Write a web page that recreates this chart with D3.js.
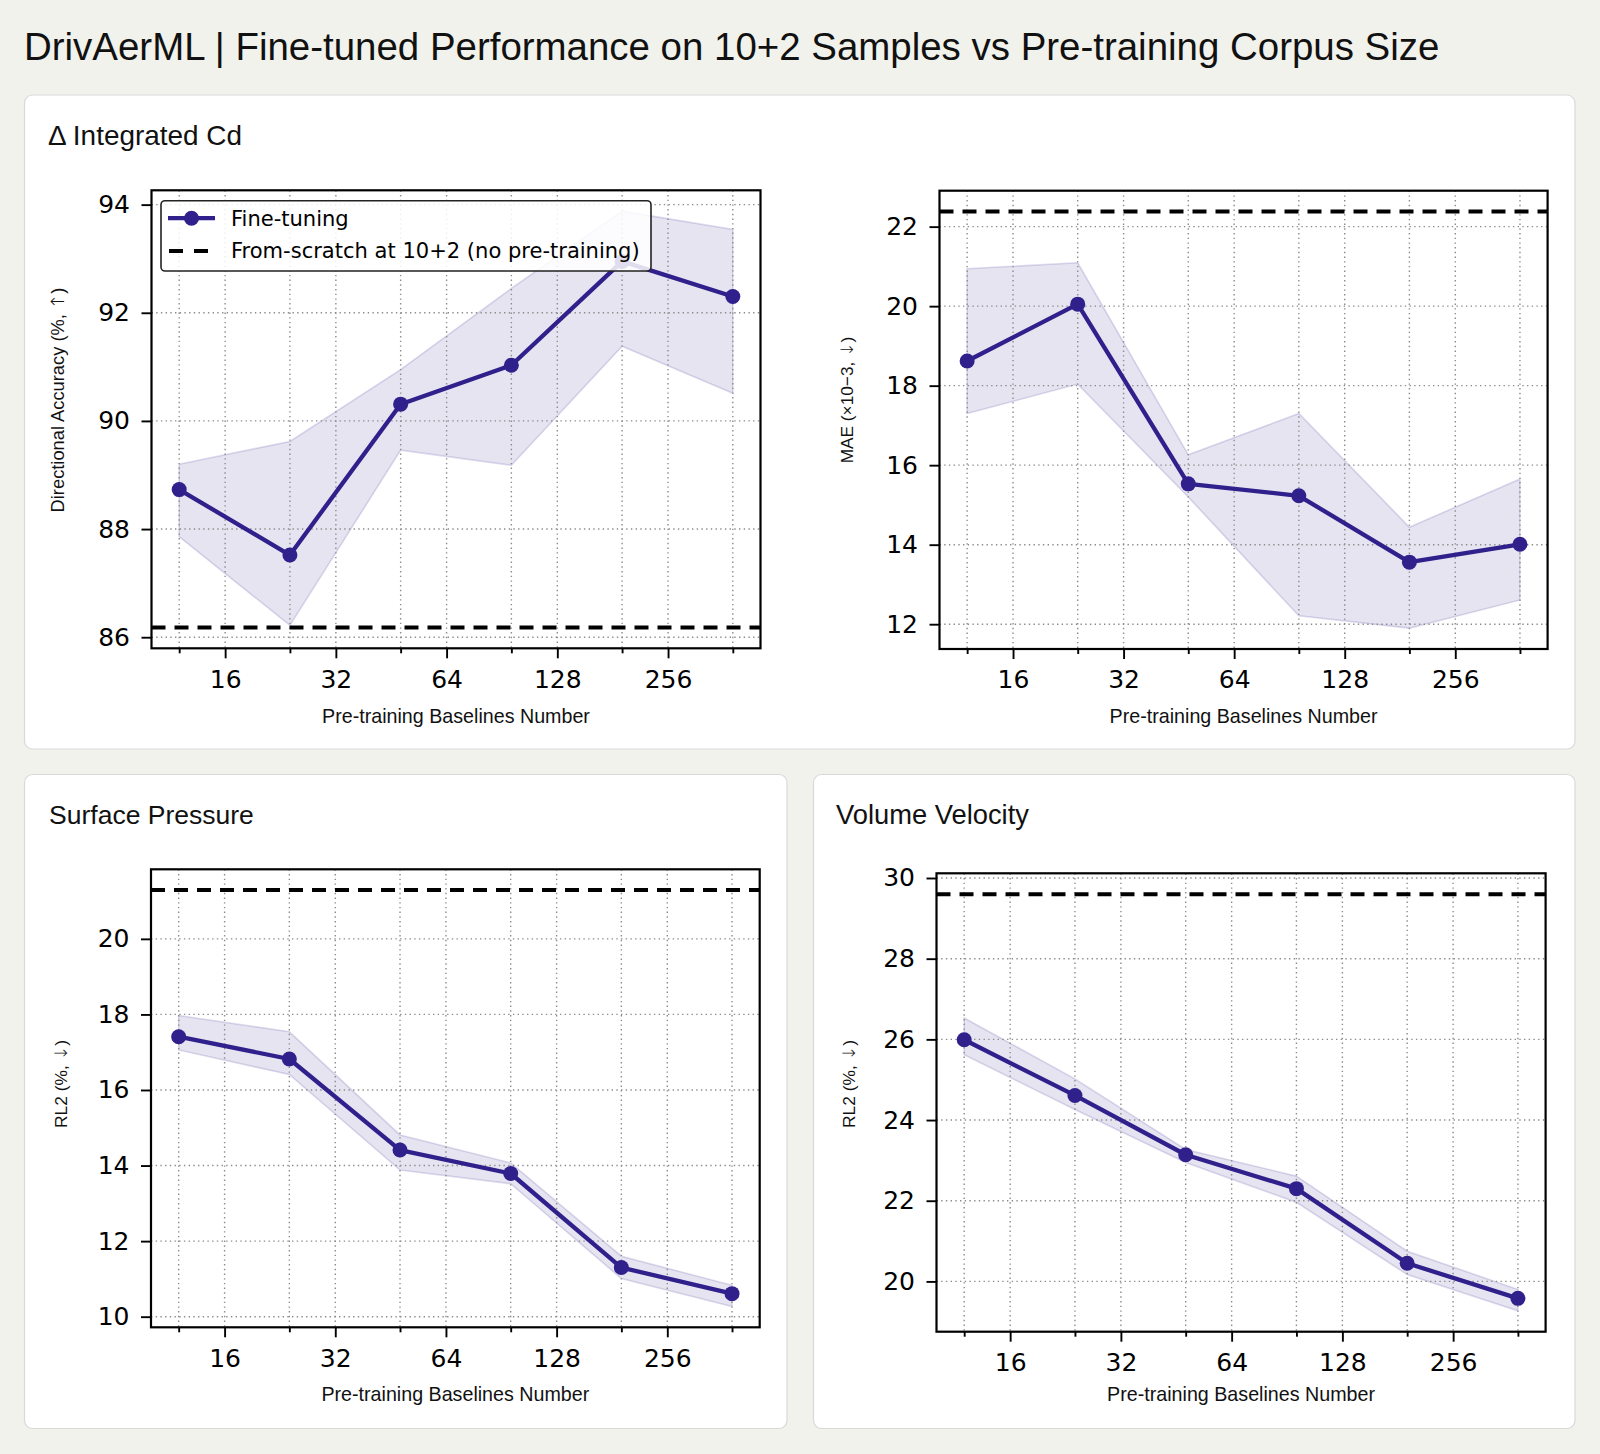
<!DOCTYPE html>
<html>
<head>
<meta charset="utf-8">
<script src="https://cdn.jsdelivr.net/npm/d3@7"></script>
<style>
  html, body { margin: 0; padding: 0; background: #f2f2ec; }
  svg { display: block; }
</style>
</head>
<body>
<svg id="chart"></svg>
<script>
// pre-training corpus sizes (x) and axis ticks
let sizes = [12, 24, 48, 96, 192, 384];
let xTicks = [16, 32, 64, 128, 256];
let xMinorTicks = [12, 24, 48, 96, 192, 384];

// Delta Integrated Cd - directional accuracy
let accMean = [88.73, 87.52, 90.31, 91.03, 92.95, 92.30];
let accUpper = [89.20, 89.62, 90.95, 92.45, 93.88, 93.54];
let accLower = [87.86, 86.22, 89.46, 89.18, 91.38, 90.51];
let accScratch = 86.18;
let accTicks = [86, 88, 90, 92, 94];

// Delta Integrated Cd - MAE
let maeMean = [18.62, 20.05, 15.53, 15.23, 13.56, 14.01];
let maeUpper = [20.94, 21.09, 16.26, 17.30, 14.44, 15.65];
let maeLower = [17.30, 18.04, 15.20, 12.21, 11.90, 12.61];
let maeScratch = 22.38;
let maeTicks = [12, 14, 16, 18, 20, 22];

// Surface pressure RL2
let spMean = [17.41, 16.82, 14.41, 13.79, 11.30, 10.61];
let spUpper = [17.97, 17.54, 14.81, 14.07, 11.60, 10.83];
let spLower = [17.06, 16.41, 13.88, 13.52, 11.01, 10.27];
let spScratch = 21.29;
let spTicks = [10, 12, 14, 16, 18, 20];

// Volume velocity RL2
let vvMean = [25.99, 24.61, 23.14, 22.30, 20.45, 19.58];
let vvUpper = [26.53, 25.02, 23.27, 22.61, 20.75, 19.80];
let vvLower = [25.62, 24.26, 22.95, 21.96, 20.17, 19.27];
let vvScratch = 29.60;
let vvTicks = [20, 22, 24, 26, 28, 30];

let lineColor = "#30208c";
let sans = "'Liberation Sans', Arial, sans-serif";
let mono = "'DejaVu Sans', sans-serif";

let W = 1600, H = 1454;

let svg = d3.select("#chart")
    .attr("width", W)
    .attr("height", H);

svg.append("rect")
    .attr("width", W)
    .attr("height", H)
    .attr("fill", "#f2f2ec");

// scale font so text hits a target width
function fit(sel, target) {
    let len = sel.node().getComputedTextLength();
    let fs = parseFloat(sel.attr("font-size"));
    sel.attr("font-size", fs * target / len);
    return fs * target / len;
}

let title = svg.append("text")
    .attr("x", 24)
    .attr("y", 59.5)
    .attr("font-family", sans)
    .attr("font-size", 36)
    .attr("fill", "#111")
    .text("DrivAerML | Fine-tuned Performance on 10+2 Samples vs Pre-training Corpus Size");
fit(title, 1416);

// cards
let cards = [
    {x: 24.5, y: 95, w: 1550.5, h: 654, title: "\u0394 Integrated Cd", tx: 48, ty: 145, tw: 194},
    {x: 24.5, y: 774.5, w: 762.5, h: 654, title: "Surface Pressure", tx: 49, ty: 824, tw: 205},
    {x: 813.5, y: 774.5, w: 761.5, h: 654, title: "Volume Velocity", tx: 836, ty: 824, tw: 193}
];

svg.selectAll(".card")
    .data(cards)
    .enter().append("rect")
    .attr("class", "card")
    .attr("x", d => d.x)
    .attr("y", d => d.y)
    .attr("width", d => d.w)
    .attr("height", d => d.h)
    .attr("rx", 8)
    .attr("fill", "#ffffff")
    .attr("stroke", "#d9d9d9")
    .attr("stroke-width", 1.2);

svg.selectAll(".cardTitle")
    .data(cards)
    .enter().append("text")
    .attr("class", "cardTitle")
    .attr("x", d => d.tx)
    .attr("y", d => d.ty)
    .attr("font-family", sans)
    .attr("font-size", 24)
    .attr("fill", "#111")
    .text(d => d.title)
    .each(function (d) { fit(d3.select(this), d.tw); });

let panels = [
    {mean: accMean, upper: accUpper, lower: accLower, scratch: accScratch, ticks: accTicks,
        label: "Directional Accuracy (%, ", arrow: "\u2191", labelLen: 225, labelX: 64, labelY: 400,
        x0: 151.5, x1: 760.5, y0: 190.3, y1: 648.3, xLabelY: 723, legend: true},
    {mean: maeMean, upper: maeUpper, lower: maeLower, scratch: maeScratch, ticks: maeTicks,
        label: "MAE (\u00d710\u22123, ", arrow: "\u2193", labelLen: 126.6, labelX: 853, labelY: 400,
        x0: 939.5, x1: 1547.6, y0: 190.7, y1: 649, xLabelY: 723, legend: false},
    {mean: spMean, upper: spUpper, lower: spLower, scratch: spScratch, ticks: spTicks,
        label: "RL2 (%, ", arrow: "\u2193", labelLen: 88, labelX: 67, labelY: 1084,
        x0: 151, x1: 759.7, y0: 869.3, y1: 1327.3, xLabelY: 1401, legend: false},
    {mean: vvMean, upper: vvUpper, lower: vvLower, scratch: vvScratch, ticks: vvTicks,
        label: "RL2 (%, ", arrow: "\u2193", labelLen: 88, labelX: 855, labelY: 1084,
        x0: 936.5, x1: 1545.6, y0: 873.3, y1: 1331.7, xLabelY: 1401, legend: false}
];

panels.forEach(drawPanel);

function drawPanel(p) {
    // log2 x with 5% margin like matplotlib
    let lx = d3.extent(sizes, d => Math.log2(d));
    let mx = (lx[1] - lx[0]) * 0.05;
    let x = d3.scaleLog().base(2)
        .domain([Math.pow(2, lx[0] - mx), Math.pow(2, lx[1] + mx)])
        .range([p.x0, p.x1]);

    let all = p.upper.concat(p.lower).concat([p.scratch]);
    let ly = d3.extent(all);
    let my = (ly[1] - ly[0]) * 0.05;
    let y = d3.scaleLinear()
        .domain([ly[0] - my, ly[1] + my])
        .range([p.y1, p.y0]);

    let g = svg.append("g");
    let clipId = "clip" + Math.round(p.x0) + Math.round(p.y0);
    g.append("clipPath").attr("id", clipId)
        .append("rect")
        .attr("x", p.x0).attr("y", p.y0)
        .attr("width", p.x1 - p.x0).attr("height", p.y1 - p.y0);

    let inner = g.append("g").attr("clip-path", "url(#" + clipId + ")");

    // std band
    let area = d3.area()
        .x((d, i) => x(sizes[i]))
        .y0((d, i) => y(p.lower[i]))
        .y1((d, i) => y(p.upper[i]));
    inner.append("path")
        .datum(p.mean)
        .attr("d", area)
        .attr("fill", lineColor)
        .attr("fill-opacity", 0.12)
        .attr("stroke", lineColor)
        .attr("stroke-opacity", 0.16)
        .attr("stroke-width", 1.6);

    // grid
    let gridX = xTicks.concat(xMinorTicks);
    inner.selectAll(".gx")
        .data(gridX)
        .enter().append("line")
        .attr("x1", d => x(d)).attr("x2", d => x(d))
        .attr("y1", p.y0).attr("y2", p.y1)
        .attr("stroke", "#8c8c8c")
        .attr("stroke-width", 1.4)
        .attr("stroke-dasharray", "1.4,3.3");
    inner.selectAll(".gy")
        .data(p.ticks)
        .enter().append("line")
        .attr("x1", p.x0).attr("x2", p.x1)
        .attr("y1", d => y(d)).attr("y2", d => y(d))
        .attr("stroke", "#8c8c8c")
        .attr("stroke-width", 1.4)
        .attr("stroke-dasharray", "1.4,3.3");

    // from-scratch reference
    inner.append("line")
        .attr("x1", p.x0).attr("x2", p.x1)
        .attr("y1", y(p.scratch)).attr("y2", y(p.scratch))
        .attr("stroke", "#000")
        .attr("stroke-width", 4)
        .attr("stroke-dasharray", "14,9");

    // fine-tuning line
    let line = d3.line()
        .x((d, i) => x(sizes[i]))
        .y(d => y(d));
    inner.append("path")
        .datum(p.mean)
        .attr("d", line)
        .attr("fill", "none")
        .attr("stroke", lineColor)
        .attr("stroke-width", 4.3)
        .attr("stroke-linejoin", "round");
    inner.selectAll(".pt")
        .data(p.mean)
        .enter().append("circle")
        .attr("cx", (d, i) => x(sizes[i]))
        .attr("cy", d => y(d))
        .attr("r", 7.5)
        .attr("fill", lineColor);

    // axes
    g.append("g")
        .attr("transform", "translate(0," + p.y1 + ")")
        .call(d3.axisBottom(x)
            .tickValues(xTicks)
            .tickFormat(d3.format("d"))
            .tickSize(10)
            .tickSizeOuter(0)
            .tickPadding(11.5));
    g.append("g")
        .attr("transform", "translate(0," + p.y1 + ")")
        .call(d3.axisBottom(x)
            .tickValues(xMinorTicks)
            .tickFormat("")
            .tickSize(5)
            .tickSizeOuter(0));
    g.append("g")
        .attr("transform", "translate(" + p.x0 + ",0)")
        .call(d3.axisLeft(y)
            .tickValues(p.ticks)
            .tickFormat(d3.format("d"))
            .tickSize(10)
            .tickSizeOuter(0)
            .tickPadding(11.5));
    g.selectAll(".domain").remove();
    g.selectAll(".tick line")
        .attr("stroke", "#000")
        .attr("stroke-width", 1.9);
    g.selectAll(".tick text")
        .attr("font-family", mono)
        .attr("font-size", 25)
        .attr("fill", "#000");

    // frame
    g.append("rect")
        .attr("x", p.x0).attr("y", p.y0)
        .attr("width", p.x1 - p.x0).attr("height", p.y1 - p.y0)
        .attr("fill", "none")
        .attr("stroke", "#000")
        .attr("stroke-width", 2.2);

    // axis labels
    let xl = g.append("text")
        .attr("x", (p.x0 + p.x1) / 2)
        .attr("y", p.xLabelY)
        .attr("text-anchor", "middle")
        .attr("font-family", sans)
        .attr("font-size", 19)
        .attr("fill", "#111")
        .text("Pre-training Baselines Number");
    fit(xl, 268);

    let yl = g.append("text")
        .attr("transform", "translate(" + p.labelX + "," + p.labelY + ") rotate(-90)")
        .attr("text-anchor", "middle")
        .attr("font-family", sans)
        .attr("font-size", 18)
        .attr("fill", "#111");
    yl.append("tspan").text(p.label);
    yl.append("tspan").attr("font-family", mono).attr("font-weight", 300).text(p.arrow);
    yl.append("tspan").text(")");
    fit(yl, p.labelLen);

    if (p.legend) drawLegend(g, p);
}

function drawLegend(g, p) {
    let lx = p.x0 + 9.5, ly = p.y0 + 10.4;
    let lg = g.append("g");
    lg.append("rect")
        .attr("x", lx).attr("y", ly)
        .attr("width", 490).attr("height", 70.3)
        .attr("rx", 4)
        .attr("fill", "#fff")
        .attr("fill-opacity", 0.85)
        .attr("stroke", "#222")
        .attr("stroke-width", 1.6);

    let rows = [
        {label: "Fine-tuning", cy: ly + 17.5, dashed: false},
        {label: "From-scratch at 10+2 (no pre-training)", cy: ly + 50.2, dashed: true}
    ];
    rows.forEach(function (r) {
        let l = lg.append("line")
            .attr("x1", lx + 7).attr("x2", lx + 54)
            .attr("y1", r.cy).attr("y2", r.cy);
        if (r.dashed) {
            l.attr("stroke", "#000")
                .attr("stroke-width", 4)
                .attr("stroke-dasharray", "14,11")
                .attr("x1", lx + 8);
        } else {
            l.attr("stroke", lineColor).attr("stroke-width", 4.3);
            lg.append("circle")
                .attr("cx", lx + 30.5).attr("cy", r.cy)
                .attr("r", 7.5).attr("fill", lineColor);
        }
    });
    let texts = lg.selectAll(".lt")
        .data(rows)
        .enter().append("text")
        .attr("x", lx + 70)
        .attr("y", d => d.cy)
        .attr("dy", "0.35em")
        .attr("font-family", mono)
        .attr("font-size", 17)
        .attr("fill", "#000")
        .text(d => d.label);
    let fs = fit(d3.select(texts.nodes()[1]), 409);
    texts.attr("font-size", fs);
}
</script>
</body>
</html>
